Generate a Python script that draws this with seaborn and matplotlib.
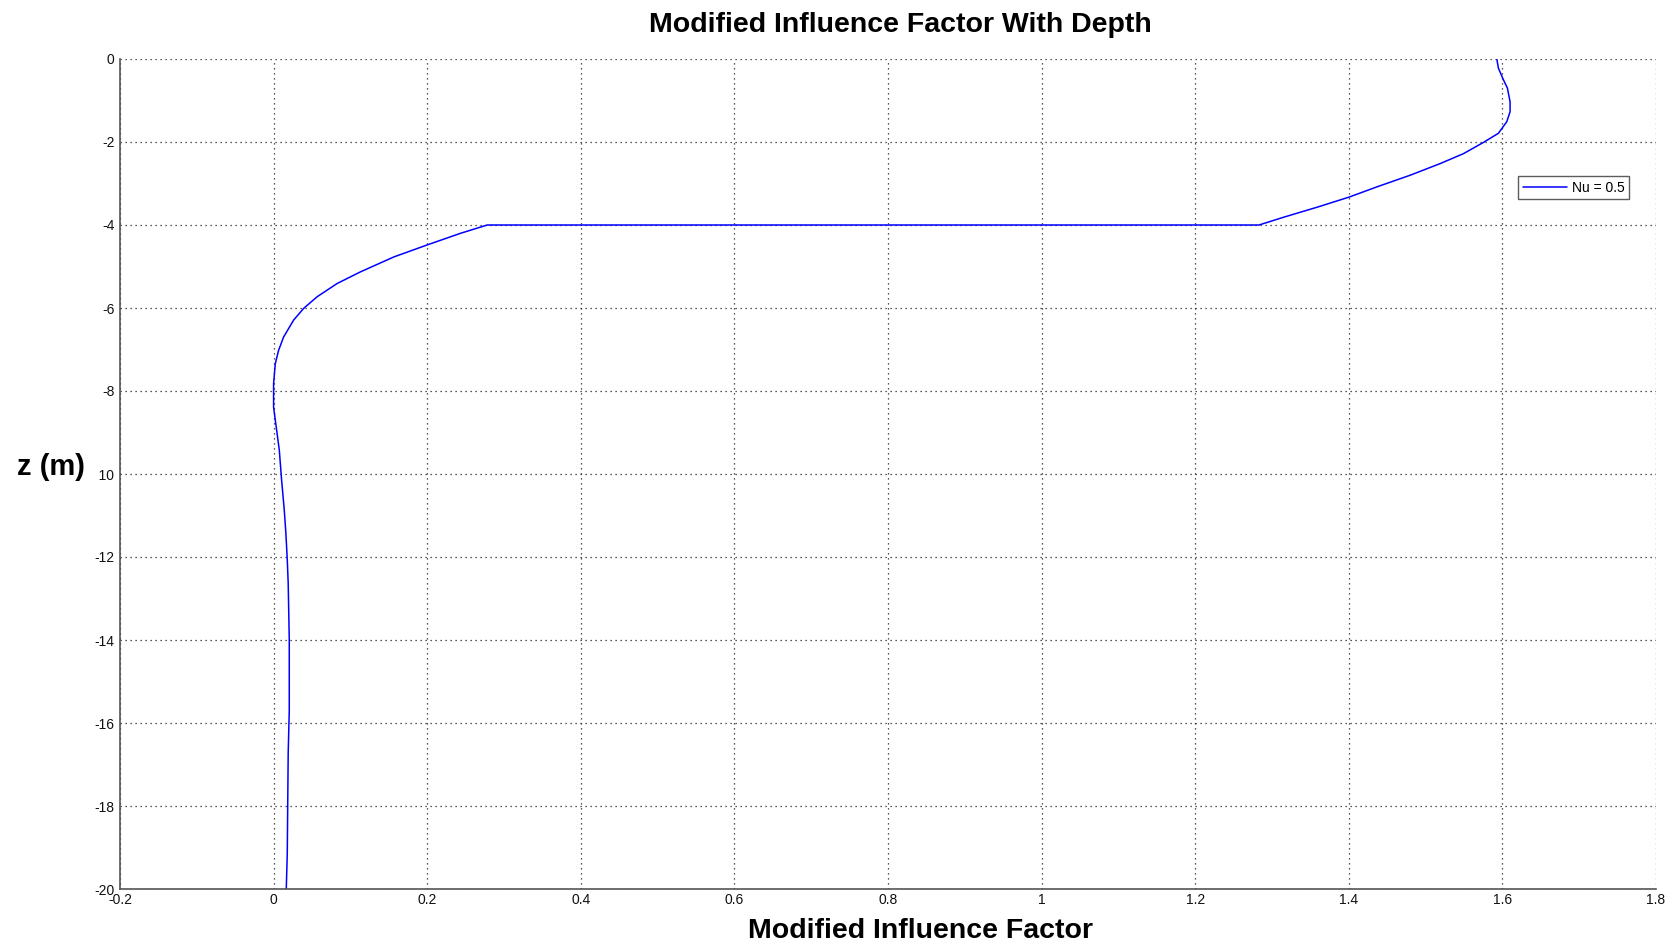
import numpy as np
import pandas as pd
import matplotlib
matplotlib.use("Agg")
import matplotlib.pyplot as plt
import seaborn as sns
from matplotlib.ticker import FormatStrFormatter

# ---- data ----
z_upper = [0.0, -0.22, -0.50, -0.70, -1.03, -1.27, -1.51, -1.79, -2.01, -2.28, -2.52,
           -2.80, -3.08, -3.33, -3.57, -3.81, -4.0]
I_upper = [1.5927, 1.5948, 1.6013, 1.6065, 1.610, 1.610, 1.6057, 1.5948, 1.5753, 1.5494, 1.519,
           1.480, 1.4368, 1.400, 1.359, 1.3156, 1.2831]

z_lower = [-4.0, -4.20, -4.48, -4.77, -5.13, -5.41, -5.73, -6.01, -6.29, -6.70, -7.02, -7.34,
           -7.82, -8.39, -8.70, -9.42, -10.14, -10.87, -11.43, -12.07, -12.63, -14.0, -15.69,
           -16.73, -19.14, -20.0]
I_lower = [0.2782, 0.2434, 0.200, 0.1565, 0.113, 0.0827, 0.0566, 0.0391, 0.0261, 0.013, 0.0065, 0.0022,
           0.0, 0.0, 0.0022, 0.0074, 0.0104, 0.0139, 0.016, 0.0178, 0.019, 0.0204, 0.0204,
           0.019, 0.0178, 0.0165]

x_ticks = [-0.2, 0, 0.2, 0.4, 0.6, 0.8, 1.0, 1.2, 1.4, 1.6, 1.8]
y_ticks = [0, -2, -4, -6, -8, -10, -12, -14, -16, -18, -20]

series_label = "Nu = 0.5"
title = "Modified Influence Factor With Depth"
xlabel = "Modified Influence Factor"
ylabel = "z (m)"

df = pd.DataFrame({"I": I_upper + I_lower, "z": z_upper + z_lower})

sns.set_theme(style="white")
plt.rcParams["font.family"] = ["Liberation Sans", "DejaVu Sans"]
plt.rcParams["text.color"] = "black"

fig = plt.figure(figsize=(16.73, 9.46), dpi=100)
ax = fig.add_axes([120 / 1673, 1 - 889 / 946, 1536 / 1673, 830 / 946])

sns.lineplot(data=df, x="I", y="z", sort=False, estimator=None, color=(0, 0, 1),
             linewidth=1.1, label=series_label, ax=ax)

ax.set_xlim(-0.2, 1.8)
ax.set_ylim(-20, 0)
ax.set_xticks(x_ticks)
ax.set_yticks(y_ticks)
ax.xaxis.set_major_formatter(FormatStrFormatter("%g"))
ax.yaxis.set_major_formatter(FormatStrFormatter("%g"))

ax.grid(True, color="#222222", linestyle=(0, (1, 3)), linewidth=0.9)
for s in ["top", "right"]:
    ax.spines[s].set_visible(False)
for s in ["left", "bottom"]:
    ax.spines[s].set_color("#555555")
    ax.spines[s].set_linewidth(1.2)

ax.tick_params(axis="both", direction="in", length=11, width=1.2, color="#555555",
               labelsize=10, labelcolor="#111111", pad=3)
ax.tick_params(axis="y", pad=4)

ax.set_title(title, fontsize=20.5, fontweight="bold", pad=19.5, x=0.508, color="black")
ax.set_xlabel(xlabel, fontsize=20.5, fontweight="bold", color="black")
ax.xaxis.set_label_coords(0.521, -0.035)
ax.set_ylabel(ylabel, fontsize=21, fontweight="bold", rotation=0, ha="center", va="center",
              color="black", bbox=dict(facecolor="white", edgecolor="none", pad=10))
ax.yaxis.set_label_coords(-0.0449, 0.508)

leg = ax.legend(loc="upper right", bbox_to_anchor=(0.9826, 0.8594), borderaxespad=0,
                fontsize=10, frameon=True, fancybox=False, shadow=False,
                handlelength=3.2, handletextpad=0.3, borderpad=0.35)
leg.get_frame().set_edgecolor("#333333")
leg.get_frame().set_linewidth(1.0)
for t in leg.get_texts():
    t.set_color("black")

fig.savefig("out.png", dpi=100)
